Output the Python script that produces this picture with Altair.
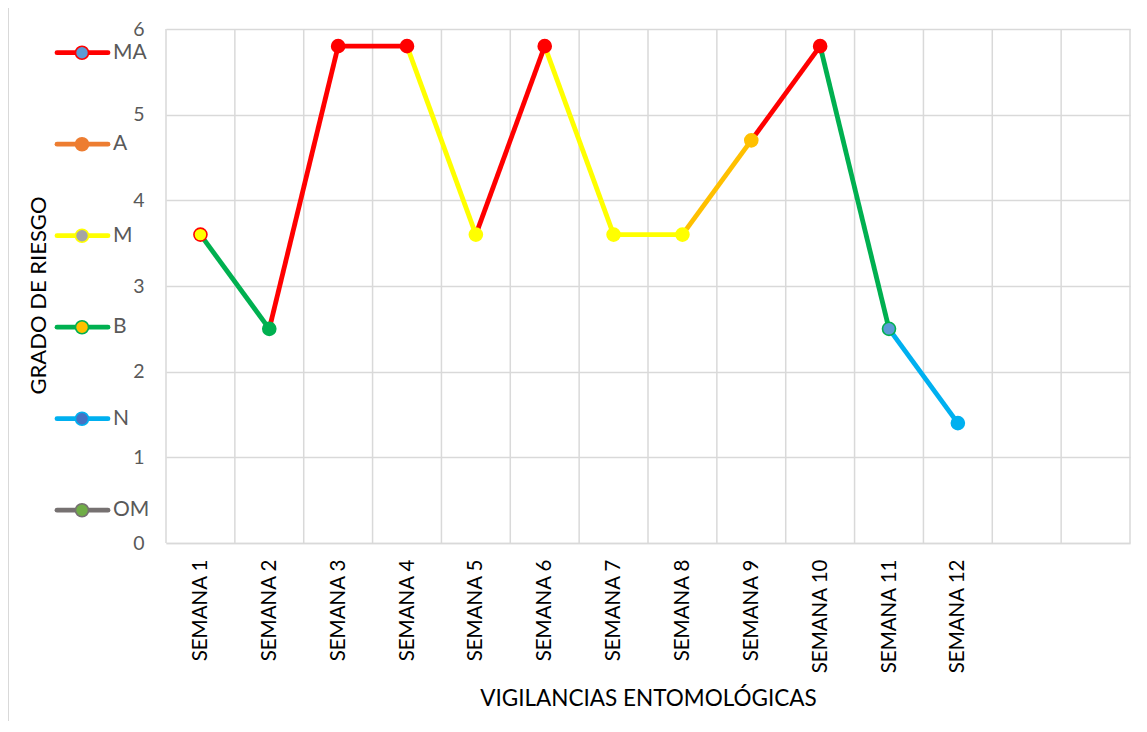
import altair as alt
import pandas as pd

# ---- data ----
weeks = [f"SEMANA {i}" for i in range(1, 13)]
week_idx = list(range(1, 13))
values = [3.6, 2.5, 5.8, 5.8, 3.6, 5.8, 3.6, 3.6, 4.7, 5.8, 2.5, 1.4]
point_fill = ["#FFFF00", "#00B050", "#FF0000", "#FF0000", "#FFFF00", "#FF0000",
              "#FFFF00", "#FFFF00", "#FFC000", "#FF0000", "#5B9BD5", "#00B0F0"]
point_stroke = ["#FF0000", "#00B050", "#FF0000", "#FF0000", "#FFFF00", "#FF0000",
                "#FFFF00", "#FFFF00", "#FFC000", "#FF0000", "#00B050", "#00B0F0"]
# colour of the segment from week k to week k+1
segment_color = ["#00B050", "#FF0000", "#FF0000", "#FFFF00", "#FF0000", "#FFFF00",
                 "#FFFF00", "#FFC000", "#FF0000", "#00B050", "#00B0F0"]
n_slots = 14  # category slots on the axis (two trailing empty)
y_ticks = [0, 1, 2, 3, 4, 5, 6]

legend_levels = ["MA", "A", "M", "B", "N", "OM"]
legend_line = ["#FF0000", "#ED7D31", "#FFFF00", "#00B050", "#00B0F0", "#767171"]
legend_fill = ["#5B9BD5", "#ED7D31", "#A5A5A5", "#FFC000", "#4472C4", "#70AD47"]
legend_stroke = ["#FF0000", "#ED7D31", "#FFFF00", "#00B050", "#00B0F0", "#767171"]

FONT = "Lato"
W, H = 964, 514

points = pd.DataFrame({"idx": week_idx, "week": weeks, "value": values,
                       "fill": point_fill, "stroke": point_stroke})
seg_rows = []
for k, c in enumerate(segment_color):
    for j in (k, k + 1):
        seg_rows.append({"seg": k, "idx": week_idx[j], "value": values[j], "color": c})
segments = pd.DataFrame(seg_rows)
bounds = pd.DataFrame({"b": [i + 0.5 for i in range(n_slots + 1)]})

xscale = alt.Scale(domain=[0.5, n_slots + 0.5], nice=False, zero=False)
yscale = alt.Scale(domain=[0, 6], nice=False)

xaxis = alt.Axis(values=week_idx, labelExpr="'SEMANA ' + datum.value", labelAngle=270,
                 labelFontSize=20.5, labelColor="#000000", labelFont=FONT, labelPadding=16,
                 labelFlush=False, labelOverlap=False, ticks=False, grid=False,
                 domain=True, domainColor="#D9D9D9", domainWidth=1.5,
                 title="VIGILANCIAS ENTOMOLÓGICAS", titleFont=FONT, titleFontSize=22.5,
                 titleFontWeight="normal", titleColor="#000000",
                 titleY=155, titleBaseline="middle")
yaxis = alt.Axis(values=y_ticks, format="d", grid=True, gridColor="#D9D9D9", gridWidth=1.5,
                 ticks=False, domain=False, labelFontSize=19.5, labelColor="#595959",
                 labelFont=FONT, labelPadding=22,
                 title="GRADO DE RIESGO", titleFont=FONT, titleFontSize=22,
                 titleFontWeight="normal", titleColor="#000000", titleAngle=270,
                 titleX=-128, titleY=266, titleBaseline="middle", titleAlign="center")

vgrid = alt.Chart(bounds).mark_rule(color="#D9D9D9", strokeWidth=1.5).encode(
    x=alt.X("b:Q", scale=xscale, axis=xaxis))

lines = alt.Chart(segments).mark_line(strokeWidth=4.8).encode(
    x=alt.X("idx:Q", scale=xscale, axis=xaxis),
    y=alt.Y("value:Q", scale=yscale, axis=yaxis),
    detail="seg:N",
    color=alt.Color("color:N", scale=None),
)

dots = alt.Chart(points).mark_circle(size=170, strokeWidth=1.6, opacity=1).encode(
    x=alt.X("idx:Q", scale=xscale, axis=xaxis),
    y=alt.Y("value:Q", scale=yscale, axis=yaxis),
    fill=alt.Fill("fill:N", scale=None),
    stroke=alt.Stroke("stroke:N", scale=None),
)

frame = alt.Chart(pd.DataFrame({"f": [0]})).mark_rect(
    filled=False, stroke="#D9D9D9", strokeWidth=2).encode(
    x=alt.value(-158), x2=alt.value(1100), y=alt.value(-24), y2=alt.value(800))

layers = [frame, vgrid, lines, dots]
y0, step = 23.7, 91.5
for i, lvl in enumerate(legend_levels):
    yy = y0 + i * step
    d = pd.DataFrame({"level": [lvl]})
    layers.append(alt.Chart(d).mark_rule(color=legend_line[i], strokeWidth=4.8,
                                         strokeCap="round").encode(
        x=alt.value(-109), x2=alt.value(-58), y=alt.value(yy)))
    layers.append(alt.Chart(d).mark_circle(size=170, opacity=1, strokeWidth=1.6,
                                           fill=legend_fill[i], stroke=legend_stroke[i]).encode(
        x=alt.value(-84), y=alt.value(yy)))
    layers.append(alt.Chart(d).mark_text(align="left", baseline="middle", fontSize=21,
                                         font=FONT, color="#595959").encode(
        x=alt.value(-53), y=alt.value(yy), text="level:N"))

chart = alt.layer(*layers).properties(
    width=W, height=H,
    autosize=alt.AutoSizeParams(type="none"),
    padding={"left": 158, "top": 21, "right": 9, "bottom": 178},
    background="#FFFFFF",
).configure_view(stroke=None)

chart.save("out.html", embed_options={"renderer": "svg", "actions": False})
